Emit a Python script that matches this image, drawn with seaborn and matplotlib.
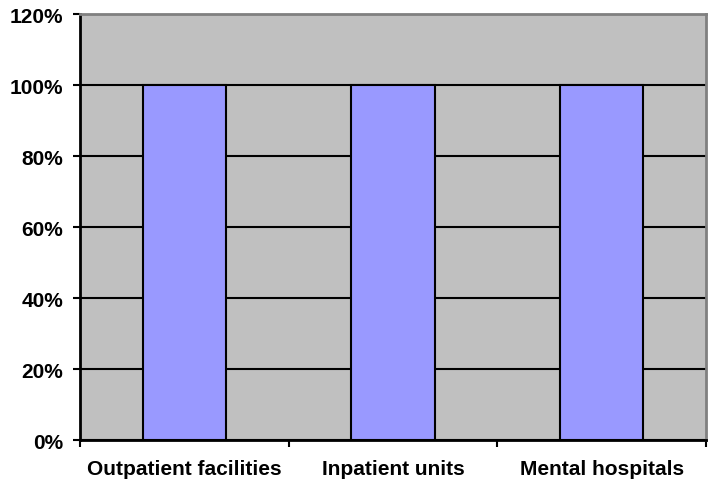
import pandas as pd
import seaborn as sns
import matplotlib.pyplot as plt
from matplotlib.ticker import FuncFormatter, FixedLocator

categories = ["Outpatient facilities", "Inpatient units", "Mental hospitals"]
values = [100, 100, 100]
df = pd.DataFrame({"facility": categories, "share": values})

sns.set_style("white")
plt.rcParams['font.family'] = ['Liberation Sans', 'DejaVu Sans']

fig = plt.figure(figsize=(7.08, 4.89), dpi=100)
ax = fig.add_axes([0.113, 0.098, 0.884, 0.871])
ax.set_facecolor("#C0C0C0")

sns.barplot(x="facility", y="share", data=df, color="#9999FF", width=0.4,
            edgecolor="black", linewidth=1.5, saturation=1, ax=ax, zorder=3)

ax.set_ylim(0, 120)
ax.set_xlim(-0.5, 2.5)
ax.set_yticks(range(0, 121, 20))
ax.yaxis.set_major_formatter(FuncFormatter(lambda v, p: f"{int(v)}%"))
ax.yaxis.grid(True, color="black", linewidth=1.5, zorder=1)
ax.set_axisbelow(True)

ax.xaxis.set_minor_locator(FixedLocator([-0.5, 0.5, 1.5, 2.5]))
ax.tick_params(axis="x", which="major", length=0, pad=13.5, labelsize=15,
               labelcolor="black", bottom=True)
ax.tick_params(axis="x", which="minor", length=5, width=1.5, direction="out",
               color="black", bottom=True)
ax.tick_params(axis="y", length=5, width=1.5, direction="out", color="black",
               labelsize=15, labelcolor="black", pad=7, left=True)
for lab in ax.get_xticklabels() + ax.get_yticklabels():
    lab.set_fontweight("bold")

ax.set_xlabel("")
ax.set_ylabel("")
for side in ["left", "bottom"]:
    ax.spines[side].set_color("black")
    ax.spines[side].set_linewidth(2)
for side in ["top", "right"]:
    ax.spines[side].set_color("#808080")
    ax.spines[side].set_linewidth(2)

fig.savefig("out.png", dpi=100)
